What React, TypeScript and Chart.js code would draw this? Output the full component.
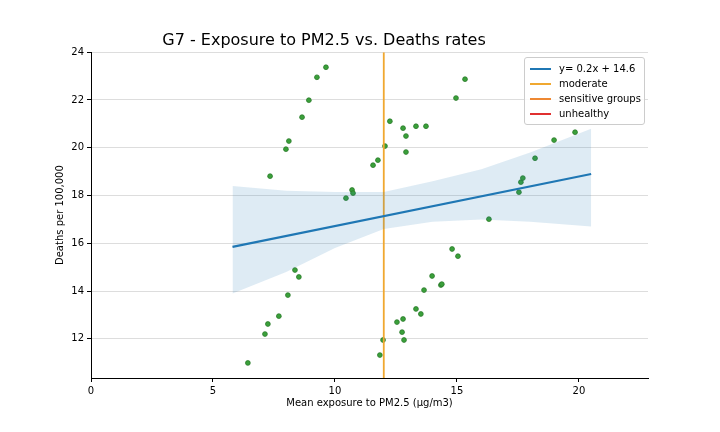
import { Chart, registerables } from "chart.js";
import { useEffect, useRef } from "react";

Chart.register(...registerables);

// exposure (µg/m3) vs deaths per 100,000
const exposure = [6.43, 7.13, 7.25, 7.7, 8.07, 8.36, 8.52, 7.34, 7.99, 8.11, 8.65, 8.93, 9.26, 9.63, 10.45, 10.7, 10.74, 11.56, 11.76, 12.05, 11.84, 11.97, 12.25, 12.79, 12.91, 12.91, 13.32, 13.73, 12.54, 12.79, 12.75, 12.83, 13.32, 13.52, 13.65, 13.98, 14.34, 14.38, 14.8, 15.04, 14.96, 15.33, 16.31, 17.54, 17.62, 17.7, 18.2, 18.98, 19.84];
const deaths = [10.99, 12.2, 12.62, 12.95, 13.83, 14.88, 14.59, 18.81, 19.94, 20.28, 21.28, 21.99, 22.95, 23.37, 17.89, 18.23, 18.1, 19.27, 19.48, 20.07, 11.32, 11.95, 21.11, 20.82, 20.49, 19.82, 20.9, 20.9, 12.7, 12.83, 12.28, 11.95, 13.25, 13.04, 14.04, 14.63, 14.25, 14.29, 15.76, 15.46, 22.08, 22.87, 17.01, 18.14, 18.56, 18.73, 19.56, 20.32, 20.65];

const fitX = [5.8, 20.5];
const fitY = [15.85, 18.9];
const bandX = [5.8, 8, 10, 12, 14, 16, 18, 20.5];
const bandLow = [13.9, 14.8, 15.8, 16.6, 16.9, 17.0, 16.9, 16.7];
const bandHigh = [18.4, 18.2, 18.15, 18.15, 18.6, 19.1, 19.8, 20.8];
const moderateX = 12;
const xTicks = [0, 5, 10, 15, 20];
const yTicks = [12, 14, 16, 18, 20, 22, 24];

const legendItems = [
    { label: "y= 0.2x + 14.6", color: "#1f77b4" },
    { label: "moderate", color: "#f0a830" },
    { label: "sensitive groups", color: "#ee8833" },
    { label: "unhealthy", color: "#e03030" },
];

export default function App() {
    const canvasRef = useRef(null);

    useEffect(() => {
        document.body.style.margin = "0";
        const chart = new Chart(canvasRef.current, {
            type: "scatter",
            data: {
                datasets: [
                    {
                        data: bandX.map((x, i) => ({ x, y: bandHigh[i] })),
                        showLine: true, pointRadius: 0, borderWidth: 0,
                        borderColor: "rgba(0,0,0,0)", fill: false,
                    },
                    {
                        data: bandX.map((x, i) => ({ x, y: bandLow[i] })),
                        showLine: true, pointRadius: 0, borderWidth: 0,
                        borderColor: "rgba(0,0,0,0)",
                        backgroundColor: "rgba(31,119,180,0.15)", fill: "-1",
                    },
                    {
                        data: fitX.map((x, i) => ({ x, y: fitY[i] })),
                        showLine: true, pointRadius: 0, borderWidth: 2.2,
                        borderColor: "#1f77b4",
                    },
                    {
                        data: [{ x: moderateX, y: 10.36 }, { x: moderateX, y: 24 }],
                        showLine: true, pointRadius: 0, borderWidth: 1.8,
                        borderColor: "#f0a830",
                    },
                    {
                        data: exposure.map((x, i) => ({ x, y: deaths[i] })),
                        pointRadius: 2.4, borderWidth: 0.8,
                        backgroundColor: "#3aa03a", borderColor: "#2a7a2a",
                    },
                ],
            },
            options: {
                animation: false,
                responsive: false,
                layout: { padding: { left: 0, right: 72, top: 0, bottom: 0 } },
                plugins: {
                    legend: { display: false },
                    tooltip: { enabled: false },
                    title: {
                        display: true,
                        text: "G7 - Exposure to PM2.5 vs. Deaths rates",
                        color: "#000",
                        font: { family: "DejaVu Sans", size: 16, weight: "normal" },
                        padding: { top: 31, bottom: 2 },
                    },
                },
                scales: {
                    x: {
                        type: "linear", min: 0, max: 22.83,
                        afterBuildTicks: (s) => { s.ticks = xTicks.map(v => ({ value: v })); },
                        afterFit: (s) => { s.height = 54; },
                        grid: { color: "rgba(0,0,0,0)", tickColor: "#000", tickLength: 4 },
                        border: { color: "#000" },
                        ticks: { color: "#000", font: { family: "DejaVu Sans", size: 10 } },
                        title: {
                            display: true, text: "Mean exposure to PM2.5 (µg/m3)", color: "#000",
                            font: { family: "DejaVu Sans", size: 10 },
                            padding: { top: 0, bottom: 23 },
                        },
                    },
                    y: {
                        min: 10.36, max: 24,
                        afterBuildTicks: (s) => { s.ticks = yTicks.map(v => ({ value: v })); },
                        afterFit: (s) => { s.width = 91; },
                        grid: { color: "#dddddd", tickColor: "#000", tickLength: 4 },
                        border: { color: "#000" },
                        ticks: { color: "#000", font: { family: "DejaVu Sans", size: 10 } },
                        title: {
                            display: true, text: "Deaths per 100,000", color: "#000",
                            font: { family: "DejaVu Sans", size: 10 },
                            padding: { top: 54, bottom: 0 },
                        },
                    },
                },
            },
        });
        return () => chart.destroy();
    }, []);

    return (
        <div style={{ position: "relative", width: 720, height: 432, background: "#fff" }}>
            <canvas ref={canvasRef} width={720} height={432} />
            <div style={{
                position: "absolute", left: 524, top: 57, width: 119, padding: "3px 0",
                border: "1px solid #ccc", borderRadius: 3, background: "rgba(255,255,255,0.85)",
                fontFamily: "DejaVu Sans", fontSize: 10, lineHeight: "15px",
            }}>
                {legendItems.map(it => (
                    <div key={it.label} style={{ display: "flex", alignItems: "center" }}>
                        <span style={{ display: "inline-block", width: 21, height: 2, background: it.color, margin: "0 8px 0 5px" }} />
                        <span>{it.label}</span>
                    </div>
                ))}
            </div>
        </div>
    );
}
